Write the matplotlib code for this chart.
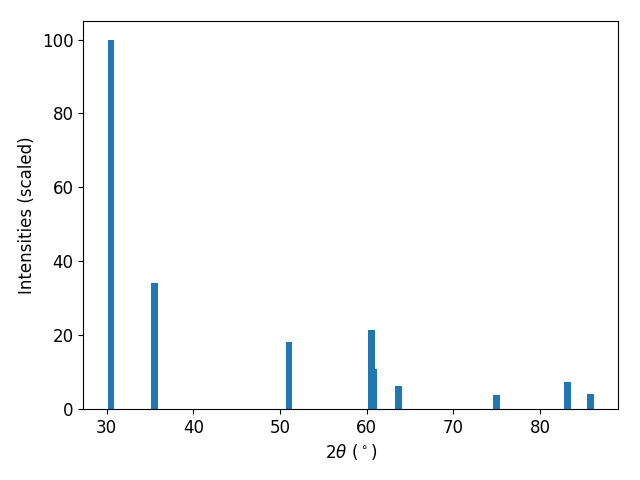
import matplotlib
matplotlib.use("Agg")
import matplotlib.pyplot as plt

two_theta = [30.5, 35.47, 51.03, 60.55, 60.75, 63.7, 75.0, 83.17, 85.8]
intensity = [100, 34.0, 18.2, 21.5, 10.9, 6.25, 3.8, 7.3, 4.1]

plt.rcParams['font.size'] = 12
fig, ax = plt.subplots(figsize=(6.4, 4.8), dpi=100)
ax.bar(two_theta, intensity, width=0.8, color='#1f77b4')
ax.set_xlabel(r'$2\theta\ (^\circ)$')
ax.set_ylabel('Intensities (scaled)')
fig.subplots_adjust(left=0.13, right=0.966, top=0.956, bottom=0.148)
fig.savefig('out.png')
